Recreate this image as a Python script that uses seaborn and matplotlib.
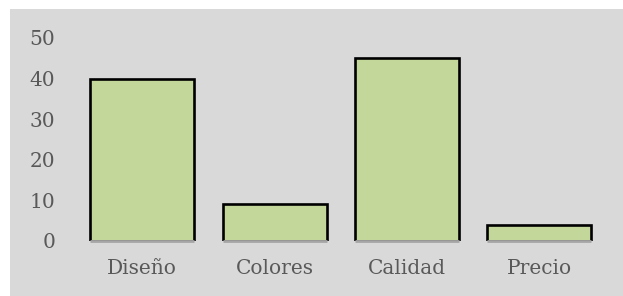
import matplotlib.pyplot as plt
import seaborn as sns
import pandas as pd
from matplotlib.patches import Rectangle

# datos
categorias = ['Diseño', 'Colores', 'Calidad', 'Precio']
valores = [40, 9, 45, 4]
ticks_y = [0, 10, 20, 30, 40, 50]

sns.set_style('white')
plt.rcParams['font.family'] = ['DejaVu Serif']

df = pd.DataFrame({'categoria': categorias, 'valor': valores})

fig = plt.figure(figsize=(6.23, 2.96), dpi=100, facecolor='white')
# fondo gris del gráfico
fig.patches.append(Rectangle((10 / 623, 0), 1 - 10 / 623, 1 - 9 / 296,
                             transform=fig.transFigure, facecolor='#D9D9D9',
                             edgecolor='none', zorder=-10))
ax = fig.add_axes([76 / 623, 1 - 241 / 296, (605.5 - 76) / 623, (241 - 38) / 296])
ax.set_facecolor('none')
ax.set_zorder(1)

sns.barplot(data=df, x='categoria', y='valor', color='#C4D79B', saturation=1,
            edgecolor='black', linewidth=1.9, width=0.785, ax=ax)

# línea base gris bajo cada barra
for i in range(len(categorias)):
    ax.hlines(0, i - 0.3925, i + 0.3925, color='#A6A6A6', linewidth=2.0,
              zorder=5, clip_on=False)

ax.set_ylim(0, 50)
ax.set_xlim(-0.5, len(categorias) - 0.5)
ax.set_yticks(ticks_y)
ax.set_xlabel('')
ax.set_ylabel('')
for s in ax.spines.values():
    s.set_visible(False)
ax.tick_params(axis='y', length=0, pad=15, labelsize=14.5, labelcolor='#595959')
ax.tick_params(axis='x', length=0, pad=13, labelsize=14.5, labelcolor='#595959')

fig.savefig('out.png', dpi=100)
